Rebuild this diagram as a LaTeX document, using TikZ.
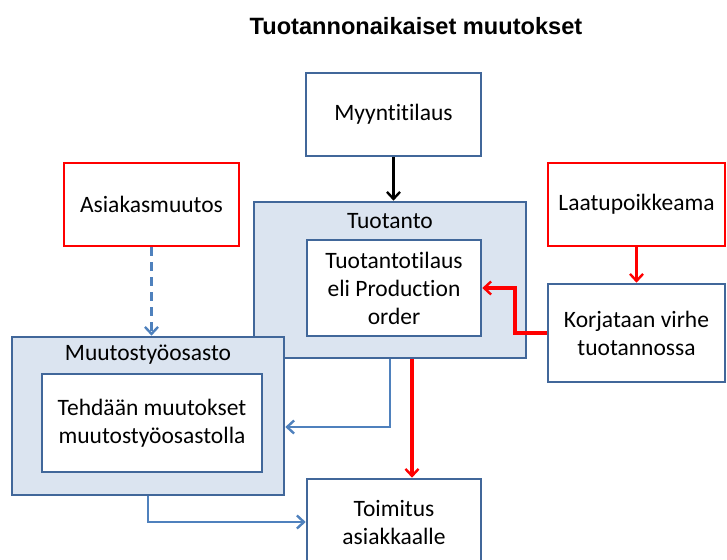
\documentclass[tikz,border=0pt]{standalone}
\usepackage{fontspec}
\setmainfont{Carlito}[Ligatures=NoCommon, RawFeature=-liga]
\newfontfamily\titlefont{Liberation Sans}
\usetikzlibrary{arrows.meta}
\definecolor{boxline}{HTML}{41679A}
\definecolor{boxfill}{HTML}{DBE4F0}
\definecolor{flowblue}{HTML}{4F81BD}
\definecolor{flowred}{HTML}{FF0000}
\tikzset{
  every node/.style={font=\fontsize{23.5}{28}\selectfont, align=center, inner sep=0pt},
  whitebox/.style={draw=boxline, line width=2.6pt, fill=white, minimum width=#1},
  redbox/.style={draw=flowred, line width=2.6pt, fill=white, minimum width=175pt, minimum height=83pt},
  groupbox/.style={draw=boxline, line width=2.6pt, fill=boxfill},
  grouplabel/.style={anchor=center},
  tip/.style={-{Straight Barb[length=7pt,width=13pt,line width=2.4pt]}},
  blackflow/.style={tip, draw=black, line width=2.8pt},
  blueflow/.style={tip, draw=flowblue, line width=2.8pt},
  redflow/.style={tip, draw=flowred, line width=3.2pt},
}
\begin{document}
\begin{tikzpicture}[x=1pt, y=-1pt]
\useasboundingbox (0,0) rectangle (727,559);
\clip (0,0) rectangle (727,559);

% title
\node[font=\titlefont\bfseries\fontsize{23.6}{28}\selectfont] (title) at (416,26) {Tuotannonaikaiset muutokset};

% top boxes
\node[whitebox=175pt, minimum height=83pt] (myynti) at (393.5,114.5) {Myyntitilaus};
\node[redbox] (asiakas) at (151.5,204.5) {Asiakasmuutos};
\node[redbox, minimum width=177pt] (laatu) at (636.5,204.5) {Laatupoikkeama};

% production group
\node[groupbox, minimum width=272pt, minimum height=156pt] (tuotanto) at (390,280) {};
\node[grouplabel] (tuotantolabel) at (390,221) {Tuotanto};
\node[whitebox=174pt, minimum height=96pt] (tilaus) at (394,288) {Tuotantotilaus\\eli Production\\order};

% correction box
\node[whitebox=177pt, minimum height=98pt] (korjaus) at (636.5,333) {Korjataan virhe\\tuotannossa};

% change department group
\node[groupbox, minimum width=272pt, minimum height=158pt] (muutos) at (148,416) {};
\node[grouplabel] (muutoslabel) at (148,355) {Muutostyöosasto};
\node[whitebox=220pt, minimum height=98pt] (tehdaan) at (152,423) {Tehdään muutokset\\muutostyöosastolla};

% delivery
\node[whitebox=174pt, minimum height=86pt] (toimitus) at (394,522) {Toimitus\\asiakkaalle};

% bend points
\coordinate (kx) at (515,0);
\coordinate (tm) at (390,427);
\coordinate (rx) at (412,0);

% connectors
\draw[blackflow] (myynti.south) -- (myynti.south |- tuotanto.north);
\draw[blueflow, dashed, dash pattern=on 9pt off 6pt] (asiakas.south) -- (asiakas.south |- muutos.north);
\draw[redflow] (laatu.south) -- (laatu.south |- korjaus.north);
\draw[redflow] (korjaus.west) -| (kx |- tilaus.east) -- (tilaus.east);
\draw[blueflow] (tuotanto.south) -- (tm) -- (tm -| muutos.east);
\draw[redflow] (rx |- tuotanto.south) -- (rx |- toimitus.north);
\draw[blueflow] (muutos.south) |- (toimitus.west);
\end{tikzpicture}
\end{document}
